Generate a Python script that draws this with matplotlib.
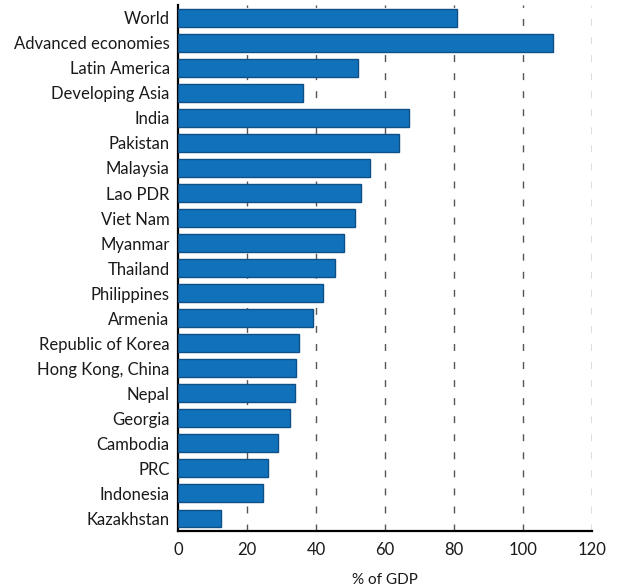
import matplotlib.pyplot as plt
import numpy as np

plt.rcParams['font.family'] = ['Lato', 'DejaVu Sans']

countries = ['World', 'Advanced economies', 'Latin America', 'Developing Asia',
             'India', 'Pakistan', 'Malaysia', 'Lao PDR', 'Viet Nam', 'Myanmar',
             'Thailand', 'Philippines', 'Armenia', 'Republic of Korea',
             'Hong Kong, China', 'Nepal', 'Georgia', 'Cambodia', 'PRC',
             'Indonesia', 'Kazakhstan']
values = [80.9, 108.7, 52.0, 36.1, 66.8, 63.9, 55.5, 52.9, 51.4, 48.0,
          45.4, 41.9, 39.0, 35.0, 34.1, 33.8, 32.3, 28.9, 26.2, 24.5, 12.4]
xticks = [0, 20, 40, 60, 80, 100, 120]

fig = plt.figure(figsize=(6.23, 5.86), dpi=100)
ax = fig.add_axes([0.2857, 0.094, 0.665, 0.897])

y = np.arange(len(countries))
ax.barh(y, values, height=0.71, color='#1172BB', edgecolor='#0E4F86',
        linewidth=1, zorder=3)

# dashed gridlines at each tick except zero
for t in xticks[1:]:
    ax.axvline(t, color='#555555', linewidth=1, linestyle=(0, (5, 8)), zorder=1)

ax.set_xlim(0, 120)
ax.set_ylim(len(countries) - 0.5, -0.5)
ax.set_yticks(y)
ax.set_yticklabels(countries, fontsize=12, color='#1a1a1a')
ax.set_xticks(xticks)
ax.set_xticklabels([str(t) for t in xticks], fontsize=12, color='#1a1a1a')
ax.tick_params(axis='y', length=0, pad=6)
ax.tick_params(axis='x', length=0, pad=8)
ax.set_xlabel('% of GDP', fontsize=11, color='#1a1a1a', labelpad=11)

for s in ['top', 'right']:
    ax.spines[s].set_visible(False)
ax.spines['left'].set_linewidth(1.6)
ax.spines['bottom'].set_linewidth(1.6)

fig.savefig('out.png', dpi=100)
